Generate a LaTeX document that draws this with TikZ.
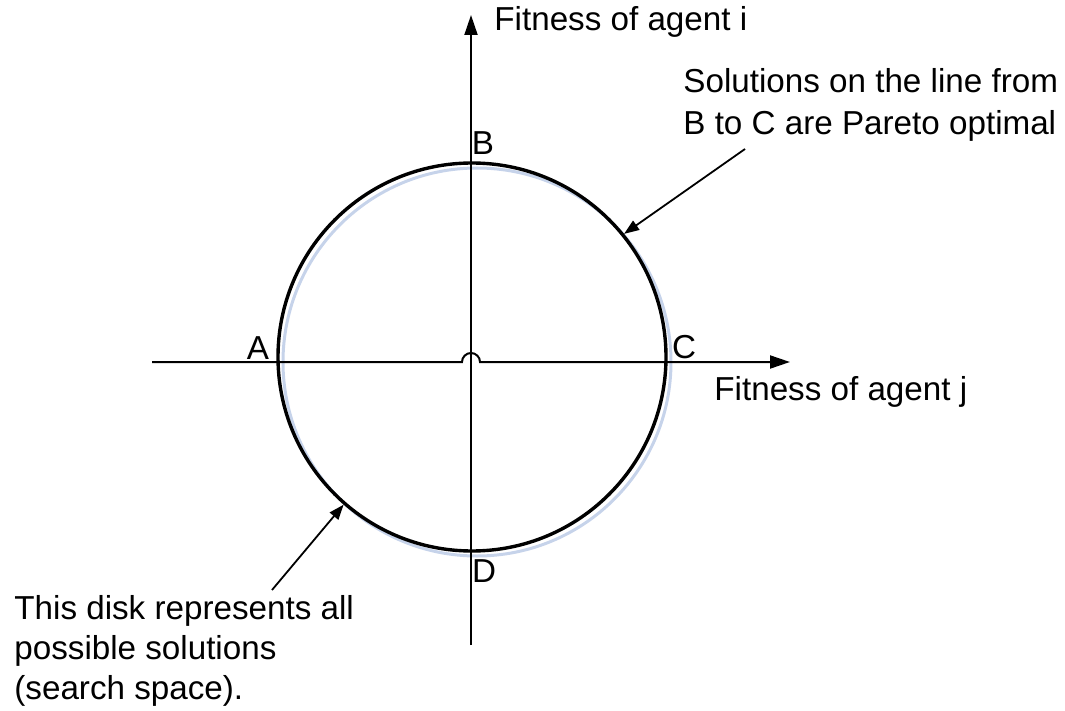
\documentclass[tikz,border=0pt]{standalone}
\usepackage{fontspec}
\setmainfont{Liberation Sans}
\usetikzlibrary{arrows.meta}
\definecolor{haze}{HTML}{C6D3EA}
\tikzset{
  axis/.style={-{Triangle[length=10pt,width=6.5pt]}, line width=1pt},
  disk/.style={circle, draw, line width=1.7pt, minimum size=194pt, inner sep=0pt},
  diskshadow/.style={disk, draw=haze, line width=1.5pt},
  note/.style={anchor=west, align=left, inner sep=0pt, font=\fontsize{16.6}{20.5}\selectfont},
  corner/.style={inner sep=0pt, font=\fontsize{16.6}{20}\selectfont},
  pointer/.style={-{Triangle[length=7.5pt,width=5.5pt]}, line width=0.9pt}
}

\begin{document}
\begin{tikzpicture}[x=0.5pt, y=-0.5pt]
 \useasboundingbox (0,0) rectangle (1065,711);

 % search space
 \node[diskshadow] (shade) at (477,362) {};
 \node[disk] (disk) at (472,357) {};

 % axes, the horizontal one hops over the vertical one
 \coordinate (ybot) at (471,645);
 \coordinate (ytop) at (471,15);
 \coordinate (xleft) at (152,362);
 \coordinate (xhop) at (462,362);
 \coordinate (xright) at (790,362);
 \draw[axis] (ybot) -- (ytop);
 \draw[axis] (xleft) -- (xhop) arc[start angle=180, end angle=0, radius=4.5pt] -- (xright);

 \node[note] (ilabel) at (494,22) {Fitness of agent i};
 \node[note] (jlabel) at (714,392) {Fitness of agent j};

 \node[corner] (ptA) at (258,348) {A};
 \node[corner] (ptB) at (483,143) {B};
 \node[corner] (ptC) at (684,347) {C};
 \node[corner] (ptD) at (484,571) {D};

 % annotations
 \node[note, font=\fontsize{16.6}{21}\selectfont] (pareto) at (683,105)
   {Solutions on the line from\\B to C are Pareto optimal};
 \node[note, font=\fontsize{16.6}{20}\selectfont] (space) at (14,651)
   {This disk represents all\\possible solutions\\(search space).};

 \coordinate (paretotail) at (745,149);
 \coordinate (spacetail) at (272,590);
 \draw[pointer] (paretotail) -- (disk.39.6);
 \draw[pointer] (spacetail) -- (disk.229.7);
\end{tikzpicture}
\end{document}
